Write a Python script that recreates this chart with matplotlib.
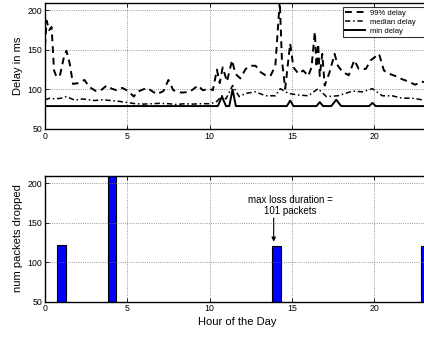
import matplotlib
matplotlib.use("Agg")
import matplotlib.pyplot as plt

plt.rcParams['font.family'] = ['Liberation Sans', 'DejaVu Sans']

# 99% delay (ms) per hour
p99_h = [0.0, 0.1, 0.25, 0.4, 0.55, 0.7, 0.9, 1.15, 1.3, 1.5,
         1.7, 2.0, 2.4, 2.7, 3.1, 3.4, 3.75, 4.05, 4.35, 4.7,
         5.05, 5.4, 5.6, 6.2, 6.8, 7.2, 7.5, 7.8, 8.3, 8.8,
         9.3, 9.6, 10.0, 10.2, 10.45, 10.62, 10.8, 11.06, 11.37, 11.57, 11.87,
         12.2, 12.5, 12.8, 13.1, 13.4, 13.7, 14.0, 14.27, 14.4, 14.6,
         14.9, 15.1, 15.4, 15.7, 16.0, 16.2, 16.4, 16.5, 16.6, 16.7,
         16.85, 17.0, 17.3, 17.6, 17.8, 18.1, 18.46, 18.8, 19.07, 19.5,
         19.8, 20.3, 20.6, 20.9, 21.3, 21.7, 22.1, 22.5, 22.9, 23.3]
p99_v = [155, 187, 175, 179, 124, 116, 117, 141, 149, 133,
         107, 108, 112, 103, 98, 99, 105, 101, 99, 102,
         98, 91, 97, 102, 94, 98, 112, 99, 96, 97,
         105, 99, 101, 99, 125, 108, 128, 110, 137, 120, 114,
         126, 130, 130, 122, 118, 117, 130, 212, 137, 101,
         158, 128, 120, 124, 117, 128, 173, 128, 158, 117,
         145, 105, 122, 145, 130, 122, 118, 137, 126, 126,
         137, 145, 124, 120, 117, 113, 110, 106, 110, 108]

# median delay
med_h = [0.0, 0.3, 0.6, 1.0, 1.3, 1.8, 2.3, 3.0, 3.5, 4.0,
         4.5, 5.0, 5.5, 6.0, 6.5, 7.0, 7.5, 8.0, 8.5, 9.0,
         9.5, 10.0, 10.4, 10.75, 11.0, 11.4, 11.8, 12.2, 12.8, 13.4,
         14.0, 14.3, 14.8, 15.4, 16.0, 16.6, 17.1, 17.8, 18.7, 19.3,
         19.9, 20.5, 21.1, 21.7, 22.3, 22.9, 23.3]
med_v = [87, 89, 88, 89, 91, 86.5, 88, 86, 87, 86,
         85, 83.5, 82, 81.5, 82, 82.5, 82, 81, 82, 81.5,
         82, 82, 84, 92, 88, 105, 91, 95, 97, 92,
         92, 101, 95, 93, 92, 101, 91, 92, 98, 97,
         101, 92, 92, 89, 89, 87, 87]

# min delay
min_h = [0, 10.5, 10.76, 11.0, 11.2, 11.4, 11.6, 14.7, 14.9, 15.1,
         16.5, 16.7, 16.9, 17.4, 17.7, 18.0, 19.7, 19.9, 20.1, 23.3]
min_v = [79, 79, 91, 79, 79, 100, 79, 79, 86, 79,
         79, 84, 79, 79, 87, 79, 79, 83, 79, 79]

# loss events
loss_h = [1.0, 4.05, 14.07, 23.1]
loss_v = [122, 215, 120, 121]

fig = plt.figure(figsize=(4.24, 3.37), dpi=100)
ax1 = fig.add_axes([45/424, 208/337, 385/424, 126.5/337])
ax2 = fig.add_axes([45/424, 35.5/337, 385/424, 126/337])

ax1.plot(p99_h, p99_v, color='k', ls=(0, (3.5, 2.5)), lw=1.4, label='99% delay')
ax1.plot(med_h, med_v, color='k', ls=(0, (3.5, 1.8, 1, 1.8)), lw=1.1, label='median delay')
ax1.plot(min_h, min_v, color='k', ls='-', lw=1.4, label='min delay')
ax1.set_ylabel('Delay in ms', fontsize=8, labelpad=3)
leg = ax1.legend(loc='upper left', bbox_to_anchor=(343/424, 1 - 38/337, 0.2, 31/337),
                 bbox_transform=fig.transFigure, mode='expand', fontsize=5.5,
                 frameon=True, fancybox=False, borderpad=0.3, labelspacing=0.25,
                 handlelength=2.6, handletextpad=0.6, borderaxespad=0)
leg.get_frame().set_edgecolor('k')
leg.get_frame().set_linewidth(0.8)

ax2.bar(loss_h, loss_v, width=0.5, color='#0000ff', edgecolor='k', lw=0.8)
ax2.set_ylabel('num packets dropped', fontsize=8, labelpad=3)
ax2.set_xlabel('Hour of the Day', fontsize=8, labelpad=3)
ax2.text(14.9, 172, 'max loss duration =\n101 packets', ha='center', va='center',
         fontsize=7, linespacing=1.15)
ax2.annotate('', xy=(13.9, 126), xytext=(13.9, 156),
             arrowprops=dict(arrowstyle='-|>', color='k', lw=0.8,
                             mutation_scale=6, shrinkA=0, shrinkB=0))

for ax in (ax1, ax2):
    ax.set_xlim(0, 23.4)
    ax.set_ylim(50, 210)
    ax.set_xticks([0, 5, 10, 15, 20])
    ax.set_yticks([50, 100, 150, 200])
    ax.grid(True, ls=':', color='#777777', lw=0.6)
    ax.tick_params(direction='in', labelsize=6.3, length=3, width=0.6,
                   top=True, right=True, pad=2)
    for s in ax.spines.values():
        s.set_linewidth(1.0)

fig.savefig('out.png', dpi=100)
